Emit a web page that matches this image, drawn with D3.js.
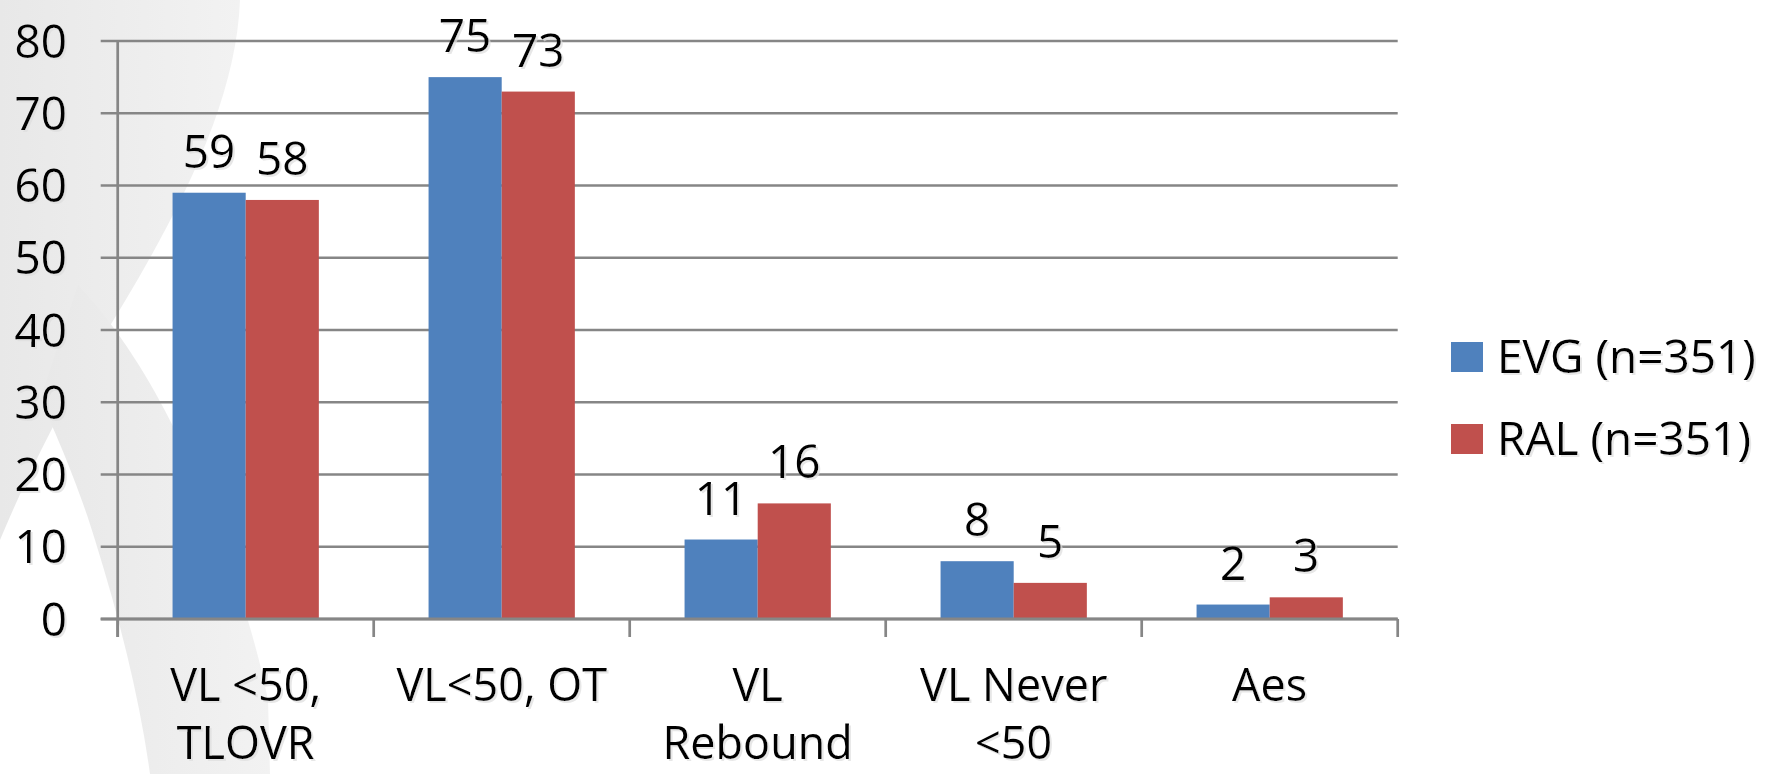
<!DOCTYPE html>
<html>
<head>
<meta charset="utf-8">
<script src="https://cdn.jsdelivr.net/npm/d3@7"></script>
<style>
  html, body { margin: 0; padding: 0; background: #ffffff; }
  svg { display: block; }
  text { font-family: "Open Sans", "DejaVu Sans", sans-serif; fill: #000; }
</style>
</head>
<body>
<svg id="chart" width="1766" height="774"></svg>
<script>
// ---- data ----
const categories = ["VL <50, TLOVR", "VL<50, OT", "VL Rebound", "VL Never <50", "Aes"];
const seriesNames = ["EVG (n=351)", "RAL (n=351)"];
const evgValues = [59, 75, 11, 8, 2];
const ralValues = [58, 73, 16, 5, 3];
const yTickValues = [0, 10, 20, 30, 40, 50, 60, 70, 80];
const seriesColors = ["#4F81BD", "#C0504D"];

const seriesValues = [evgValues, ralValues];
const rows = categories.map((c, i) => ({
  cat: c,
  vals: seriesNames.map((s, j) => ({ series: s, idx: j, value: seriesValues[j][i] }))
}));

const svg = d3.select("#chart");
const plot = { left: 117.7, right: 1397.7, top: 41, bottom: 619 };

// shadow filter for text
const defs = svg.append("defs");
const f = defs.append("filter").attr("id", "tshadow").attr("x", "-5%").attr("y", "-5%").attr("width", "115%").attr("height", "120%");
f.append("feOffset").attr("in", "SourceAlpha").attr("dx", 1.5).attr("dy", 2).attr("result", "off");
f.append("feColorMatrix").attr("in", "off").attr("type", "matrix")
  .attr("values", "0 0 0 0 0.72  0 0 0 0 0.72  0 0 0 0 0.72  0 0 0 0.7 0").attr("result", "sh");
const fm = f.append("feMerge");
fm.append("feMergeNode").attr("in", "sh");
fm.append("feMergeNode").attr("in", "SourceGraphic");

const lg = defs.append("linearGradient").attr("id", "wm").attr("x1", 0).attr("y1", 0).attr("x2", 1).attr("y2", 0);
lg.append("stop").attr("offset", "0%").attr("stop-color", "#e8e8e8");
lg.append("stop").attr("offset", "100%").attr("stop-color", "#f2f2f2");

// ---- faint ribbon watermark in the background ----
const wm = svg.append("g").attr("fill", "url(#wm)");
wm.append("path").attr("d", "M0,0 L240,0 C236,110 170,230 95,350 C60,410 25,480 0,540 Z");
wm.append("path").attr("d", "M78,285 C120,330 150,380 175,430 C215,520 250,610 268,700 L270,774 L150,774 C140,700 120,620 95,540 C80,490 55,430 40,400 Z");

// ---- scales ----
const y = d3.scaleLinear().domain([0, 80]).range([plot.bottom, plot.top]);
const xCat = d3.scaleBand().domain(categories).range([plot.left, plot.right]).padding(0);
const x0 = d3.scaleBand().domain(categories).range([plot.left, plot.right])
  .paddingInner(3 / 7).paddingOuter(3 / 14);
const x1 = d3.scaleBand().domain(seriesNames).range([0, x0.bandwidth()]).padding(0);

const gridColor = "#868686";

// gridlines (with left tick stubs)
svg.append("g").selectAll("line").data(yTickValues).join("line")
  .attr("x1", plot.left - 17).attr("x2", plot.right)
  .attr("y1", d => y(d)).attr("y2", d => y(d))
  .attr("stroke", gridColor).attr("stroke-width", 2.7);

// y-axis line
svg.append("line").attr("x1", plot.left).attr("x2", plot.left)
  .attr("y1", plot.top).attr("y2", plot.bottom + 18)
  .attr("stroke", gridColor).attr("stroke-width", 2.7);

// x-axis category boundary ticks
const boundaries = categories.map(c => xCat(c)).concat([xCat(categories[categories.length - 1]) + xCat.bandwidth()]);
svg.append("g").selectAll("line").data(boundaries).join("line")
  .attr("x1", d => d).attr("x2", d => d)
  .attr("y1", plot.bottom).attr("y2", plot.bottom + 18)
  .attr("stroke", gridColor).attr("stroke-width", 2.7);

// y tick labels
svg.append("g").attr("filter", "url(#tshadow)").selectAll("text").data(yTickValues).join("text")
  .attr("x", 67).attr("y", d => y(d) + 16.5)
  .attr("text-anchor", "end").attr("font-size", 46)
  .text(d => d);

// bars
const groups = svg.append("g").selectAll("g").data(rows).join("g")
  .attr("transform", d => `translate(${x0(d.cat)},0)`);
groups.selectAll("rect").data(d => d.vals).join("rect")
  .attr("x", d => x1(d.series)).attr("width", x1.bandwidth())
  .attr("y", d => y(d.value)).attr("height", d => y(0) - y(d.value))
  .attr("fill", d => seriesColors[d.idx]);

// redraw baseline over bars
svg.append("line").attr("x1", plot.left - 17).attr("x2", plot.right)
  .attr("y1", y(0)).attr("y2", y(0)).attr("stroke", gridColor).attr("stroke-width", 3);

// value labels
groups.append("g").attr("filter", "url(#tshadow)").selectAll("text").data(d => d.vals).join("text")
  .attr("x", d => x1(d.series) + x1.bandwidth() / 2)
  .attr("y", d => y(d.value) - 25)
  .attr("text-anchor", "middle").attr("font-size", 46)
  .text(d => d.value);

// category labels (word-wrapped)
const catG = svg.append("g").attr("filter", "url(#tshadow)");
categories.forEach(c => {
  const t = catG.append("text").attr("text-anchor", "middle").attr("font-size", 45)
    .attr("x", xCat(c) + xCat.bandwidth() / 2).attr("y", 701);
  const words = c.split(" ");
  let lines = [], cur = [];
  const probe = catG.append("text").attr("font-size", 45).attr("visibility", "hidden");
  words.forEach(w => {
    const test = cur.concat([w]).join(" ");
    probe.text(test);
    if (cur.length && probe.node().getComputedTextLength() > 240) {
      lines.push(cur.join(" "));
      cur = [w];
    } else cur.push(w);
  });
  lines.push(cur.join(" "));
  probe.remove();
  lines.forEach((ln, i) => {
    t.append("tspan").attr("x", xCat(c) + xCat.bandwidth() / 2).attr("dy", i === 0 ? 0 : 58).text(ln);
  });
});

// legend
const leg = svg.append("g").selectAll("g").data(seriesNames).join("g")
  .attr("transform", (d, i) => `translate(1451,${342 + i * 82})`);
leg.append("rect").attr("width", 32).attr("height", 30).attr("fill", (d, i) => seriesColors[i]);
leg.append("text").attr("x", 46).attr("y", 31).attr("font-size", 46)
  .attr("filter", "url(#tshadow)").text(d => d);
</script>
</body>
</html>
